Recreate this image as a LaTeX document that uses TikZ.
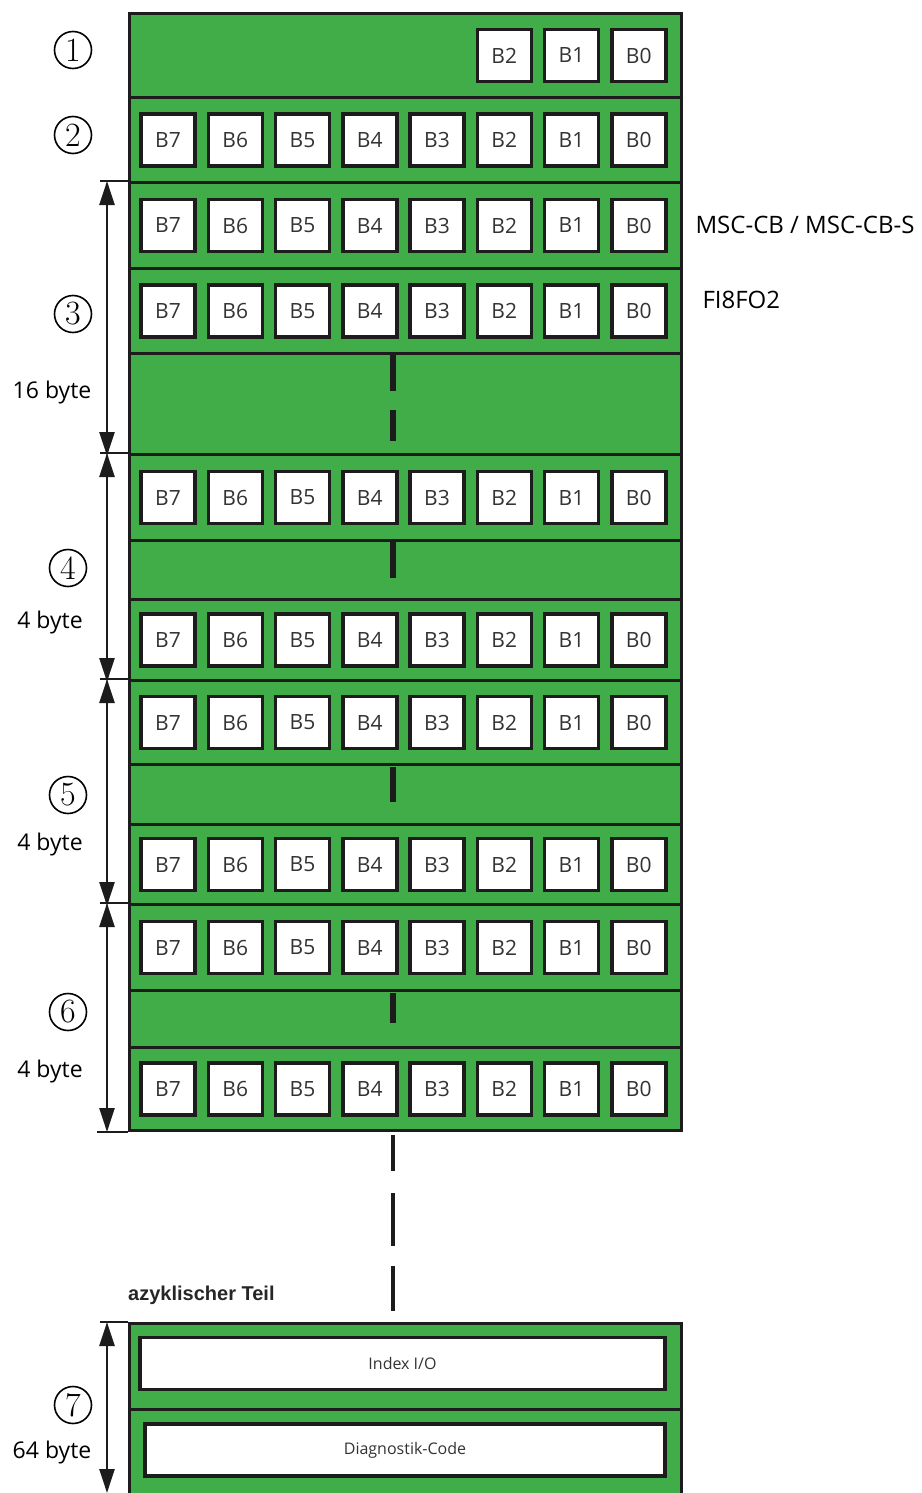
\documentclass[tikz,border=0pt]{standalone}
\usepackage{fontspec}
\setmainfont{Open Sans}
\newfontfamily\headfont{Liberation Sans}
\newfontfamily\digitfont{Latin Modern Roman}
\usetikzlibrary{positioning, arrows.meta}
\definecolor{regGreen}{RGB}{64,173,72}
\definecolor{frameDark}{RGB}{28,28,28}

\begin{document}
\begin{tikzpicture}[x=1pt, y=-1pt, >={Triangle[length=24pt,width=15pt]},
        row/.style={rectangle, draw=frameDark, fill=regGreen, line width=3pt, minimum width=552pt, inner sep=0pt, anchor=north west},
        bit/.style={rectangle, draw=frameDark, fill=white, line width=3.5pt, minimum width=54pt, minimum height=52pt, inner sep=0pt, text=black!80, font=\fontsize{21}{21}\selectfont},
        wide/.style={rectangle, draw=frameDark, fill=white, line width=3.5pt, minimum height=52pt, inner sep=0pt, text=black!80, font=\fontsize{16}{16}\selectfont},
        dim/.style={<->, line width=2.5pt, draw=frameDark},
        tick/.style={line width=2.5pt, draw=frameDark},
        gapdash/.style={line width=6pt, draw=frameDark},
        num/.style={circle, draw=black, line width=1.6pt, minimum size=37pt, inner sep=0pt, font=\digitfont\fontsize{34}{34}\selectfont},
        size/.style={font=\fontsize{23}{23}\selectfont},
        side/.style={anchor=west, font=\fontsize{24}{24}\selectfont}]

    \useasboundingbox (0,0) rectangle (921,1493);

    % register rows
    \node[row, minimum height=84pt] (row1)  at (128,12)   {};
    \node[row, minimum height=85pt] (row2)  at (128,96)   {};
    \node[row, minimum height=86pt] (row3a) at (128,181)  {};
    \node[row, minimum height=85pt] (row3b) at (128,267)  {};
    \node[row, minimum height=101pt] (gap3) at (128,352)  {};
    \node[row, minimum height=86pt] (row4a) at (128,453)  {};
    \node[row, minimum height=59pt] (gap4)  at (128,539)  {};
    \node[row, minimum height=81pt] (row4b) at (128,598)  {};
    \node[row, minimum height=84pt] (row5a) at (128,679)  {};
    \node[row, minimum height=60pt] (gap5)  at (128,763)  {};
    \node[row, minimum height=80pt] (row5b) at (128,823)  {};
    \node[row, minimum height=86pt] (row6a) at (128,903)  {};
    \node[row, minimum height=57pt] (gap6)  at (128,989)  {};
    \node[row, minimum height=83pt] (row6b) at (128,1046) {};
    \node[row, minimum height=86pt] (row7a) at (128,1322) {};
    \node[row, minimum height=95pt] (row7b) at (128,1408) {};

    % bits
    \foreach \b in {2,1,0}
        \node[bit] (row1-B\b) at ([xshift={40+67.25*(7-\b)}]row1.west) {B\b};
    \foreach \r in {row2,row3a,row3b,row4a,row4b,row5a,row5b,row6a,row6b}
        \foreach \b in {7,...,0}
            \node[bit] (\r-B\b) at ([xshift={40+67.25*(7-\b)}]\r.west) {B\b};

    \node[wide, minimum width=525pt] (index) at (402.5,1363.5) {Index I/O};
    \node[wide, minimum width=520pt] (diag)  at (405,1450)     {Diagnostik-Code};

    % continuation marks
    \draw[gapdash, dash pattern=on 36pt off 19pt] (393,355) -- (393,441);
    \draw[gapdash] (393,542) -- (393,578);
    \draw[gapdash] (393,767) -- (393,802);
    \draw[gapdash] (393,993) -- (393,1023);
    \draw[line width=3.5pt, draw=frameDark, dash pattern=on 36pt off 22pt on 53pt off 20pt on 45pt] (393,1135) -- (393,1311);

    % size arrows
    \foreach \n in {row3a,row4a,row5a,row6a,row7a}
        \draw[tick] ([xshift=-28pt]\n.north west) -- (\n.north west);
    \draw[tick] ([xshift=-31pt]row6b.south west) -- (row6b.south west);
    \draw[dim] ([xshift=-21pt]row3a.north west) -- ([xshift=-21pt]gap3.south west);
    \draw[dim] ([xshift=-21pt]row4a.north west) -- ([xshift=-21pt]row4b.south west);
    \draw[dim] ([xshift=-21pt]row5a.north west) -- ([xshift=-21pt]row5b.south west);
    \draw[dim] ([xshift=-21pt]row6a.north west) -- ([xshift=-21pt]row6b.south west);
    \draw[dim] ([xshift=-21pt]row7a.north west) -- ([xshift=-21pt]row7b.west |- 0,1493);

    % labels
    \node[num] (n1) at (73,50)   {1};
    \node[num] (n2) at (73,135)  {2};
    \node[num] (n3) at (73,314)  {3};
    \node[num] (n4) at (68,568)  {4};
    \node[num] (n5) at (68,795)  {5};
    \node[num] (n6) at (68,1012) {6};
    \node[num] (n7) at (73,1405) {7};

    \node[size] (s3) at (52,393)  {16 byte};
    \node[size] (s4) at (50,623)  {4 byte};
    \node[size] (s5) at (50,845)  {4 byte};
    \node[size] (s6) at (50,1072) {4 byte};
    \node[size] (s7) at (52,1453) {64 byte};

    \node[side] (msc)  at (692,225) {MSC-CB / MSC-CB-S};
    \node[side] (fifo) at (699,300) {FI8FO2};

    \node[anchor=west, inner sep=0pt, font=\headfont\bfseries\fontsize{20}{20}\selectfont, text=black!85] (acyc) at (128,1295) {azyklischer Teil};

\end{tikzpicture}
\end{document}
